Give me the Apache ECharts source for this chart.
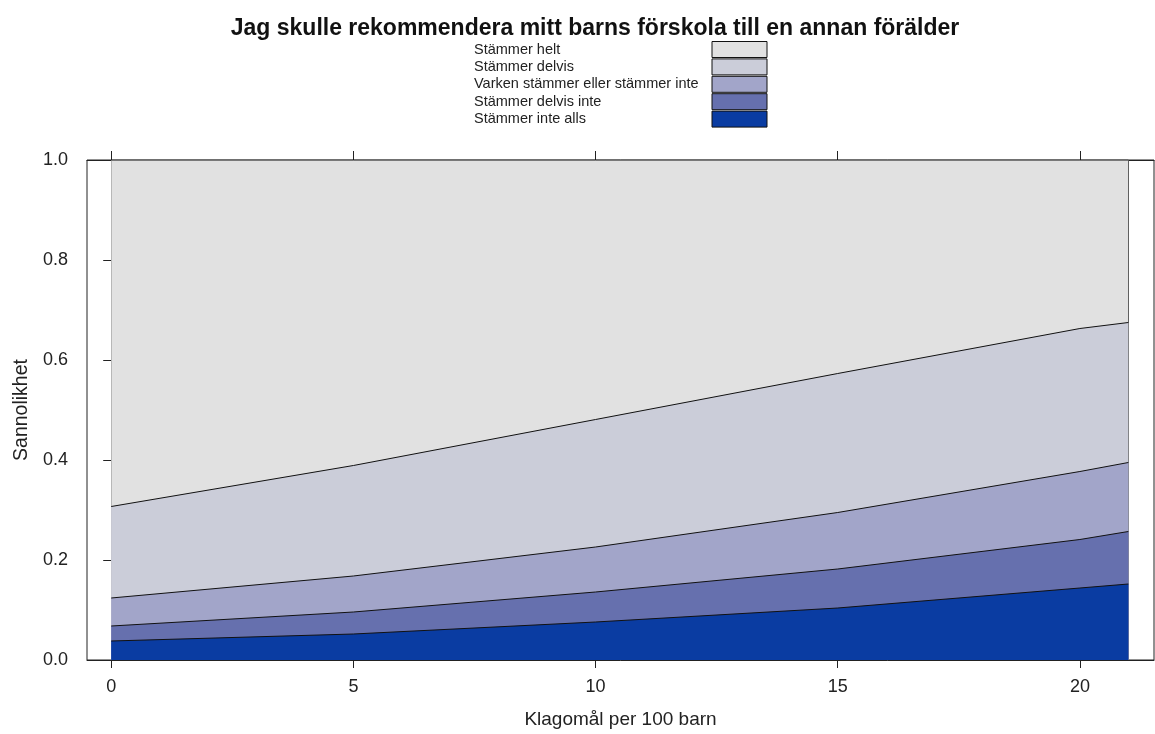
<!DOCTYPE html>
<html>
<head>
<meta charset="utf-8">
<script src="https://cdn.jsdelivr.net/npm/echarts@6/dist/echarts.min.js"></script>
<style>html,body{margin:0;padding:0;background:#fff}#c{width:1155px;height:734px}</style>
</head>
<body>
<div id="c"></div>
<script>
// x values (Klagomål per 100 barn)
const xValues = [0, 5, 10, 15, 20, 21];
// probabilities per answer category (bottom to top of the stack)
const intealls   = [0.038, 0.052, 0.076, 0.104, 0.144, 0.152];
const delvisInte = [0.030, 0.044, 0.060, 0.078, 0.097, 0.105];
const varken     = [0.056, 0.072, 0.090, 0.113, 0.136, 0.138];
const delvis     = [0.183, 0.221, 0.255, 0.278, 0.286, 0.280];
const helt       = [0.693, 0.611, 0.519, 0.427, 0.337, 0.325];

const names = ['Stämmer inte alls', 'Stämmer delvis inte', 'Varken stämmer eller stämmer inte', 'Stämmer delvis', 'Stämmer helt'];
const values = [intealls, delvisInte, varken, delvis, helt];
const colors = ['#0a3ca2', '#6670ae', '#a2a5c9', '#cbcdd9', '#e1e1e1'];
const xTicks = [0, 5, 10, 15, 20];

const FONT = '"Liberation Sans", Arial, sans-serif';
const TXT = '#222';

// cumulative sums (stack tops), built from the category arrays
const cumulative = values.map((_, i) => xValues.map((x, j) => {
  let s = 0;
  for (let k = 0; k <= i; k++) s += values[k][j];
  return s;
}));

// draw the tallest layer first so lower layers paint over it
const series = names.map((n, i) => ({
  name: n,
  type: 'line',
  color: colors[i],
  symbol: 'none',
  lineStyle: { color: '#111', width: 1 },
  areaStyle: { color: colors[i], opacity: 1, origin: 'start' },
  data: xValues.map((x, j) => [x, cumulative[i][j]]),
  z: 10 - i,
  markLine: i === 0 ? {
    silent: true, symbol: 'none', label: { show: false },
    lineStyle: { color: '#222', width: 1, type: 'solid' },
    data: [{ xAxis: xValues[0] }, { xAxis: xValues[xValues.length - 1] }]
  } : undefined
})).reverse();

const chart = echarts.init(document.getElementById('c'));
chart.setOption({
  backgroundColor: '#fff',
  animation: false,
  title: {
    text: 'Jag skulle rekommendera mitt barns förskola till en annan förälder',
    left: 590, top: 12, textAlign: 'center',
    textStyle: { fontFamily: FONT, fontSize: 23, fontWeight: 'bold', color: '#111' }
  },
  legend: {
    orient: 'vertical', align: 'right', left: 474, top: 41, padding: 0,
    itemWidth: 55, itemHeight: 16, itemGap: 0.4, icon: 'rect',
    itemStyle: { borderColor: '#111', borderWidth: 1 },
    data: names.slice().reverse(),
    formatter: n => '{a|' + n + '}',
    textStyle: { fontFamily: FONT, fontSize: 14.5, color: TXT,
      rich: { a: { width: 233, height: 16, lineHeight: 16, align: 'left', fontFamily: FONT, fontSize: 14.5, color: TXT } } }
  },
  grid: { left: 87, top: 160, right: 1, bottom: 73, show: true, borderColor: '#222', borderWidth: 1, backgroundColor: 'transparent' },
  xAxis: [{
    type: 'value', min: -0.5, max: 21.53, position: 'bottom',
    name: 'Klagomål per 100 barn', nameLocation: 'middle', nameGap: 50,
    nameTextStyle: { fontFamily: FONT, fontSize: 19, color: TXT },
    axisLine: { show: true, lineStyle: { color: '#222' } },
    axisTick: { show: true, length: 8, customValues: xTicks, lineStyle: { color: '#222' } },
    axisLabel: { customValues: xTicks, margin: 18, fontFamily: FONT, fontSize: 18, color: TXT },
    splitLine: { show: false }
  }, {
    type: 'value', min: -0.5, max: 21.53, position: 'top',
    axisLine: { show: true, lineStyle: { color: '#222' } },
    axisTick: { show: true, length: 9, customValues: xTicks, lineStyle: { color: '#222' } },
    axisLabel: { show: false, customValues: xTicks },
    splitLine: { show: false }
  }],
  yAxis: {
    type: 'value', min: 0, max: 1, interval: 0.2,
    name: 'Sannolikhet', nameLocation: 'middle', nameGap: 55,
    nameTextStyle: { fontFamily: FONT, fontSize: 19.5, color: TXT },
    axisLine: { show: true, lineStyle: { color: '#222' } },
    axisTick: { show: true, length: 8, lineStyle: { color: '#222' } },
    axisLabel: { margin: 19, fontFamily: FONT, fontSize: 18, color: TXT, formatter: v => v.toFixed(1) },
    splitLine: { show: false }
  },
  series: series
});
</script>
</body>
</html>
